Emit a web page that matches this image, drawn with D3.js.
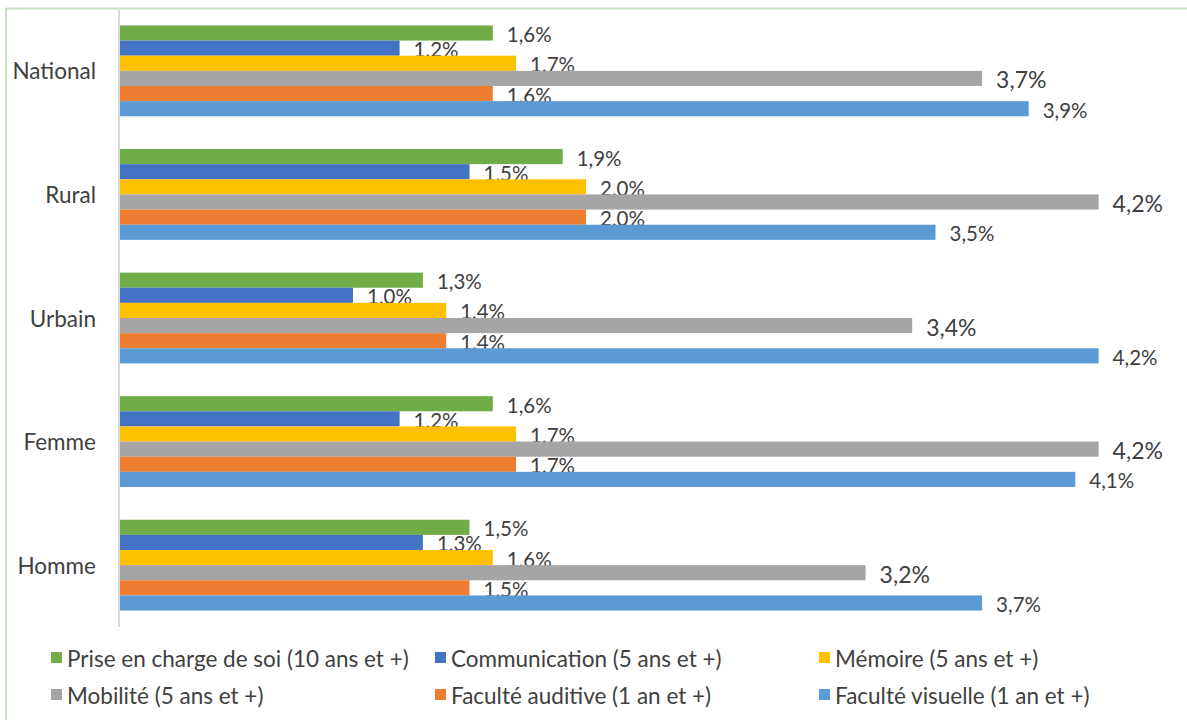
<!DOCTYPE html>
<html>
<head>
<meta charset="utf-8">
<script src="https://cdn.jsdelivr.net/npm/d3@7"></script>
<style>
  html, body { margin: 0; padding: 0; background: #fff; }
  svg { display: block; font-family: "Lato", "Open Sans", sans-serif; }
</style>
</head>
<body>
<svg id="chart" width="1187" height="720"></svg>
<script>
// Groups shown on the vertical axis (top to bottom)
const categories = ["National", "Rural", "Urbain", "Femme", "Homme"];

// Series names, in the drawing order inside each group
const seriesNames = [
  "Prise en charge de soi (10 ans et +)",
  "Communication (5 ans et +)",
  "Mémoire (5 ans et +)",
  "Mobilité (5 ans et +)",
  "Faculté auditive (1 an et +)",
  "Faculté visuelle (1 an et +)"
];

// Percentages per series, one value per category
const priseEnCharge = [1.6, 1.9, 1.3, 1.6, 1.5];
const communication = [1.2, 1.5, 1.0, 1.2, 1.3];
const memoire       = [1.7, 2.0, 1.4, 1.7, 1.6];
const mobilite      = [3.7, 4.2, 3.4, 4.2, 3.2];
const auditive      = [1.6, 2.0, 1.4, 1.7, 1.5];
const visuelle      = [3.9, 3.5, 4.2, 4.1, 3.7];

const seriesValues = [priseEnCharge, communication, memoire, mobilite, auditive, visuelle];
const colors = ["#70ad47", "#4472c4", "#ffc000", "#a5a5a5", "#ed7d31", "#5b9bd5"];

const svg = d3.select("#chart");

// Outer frame: thin green rule on the top and left edges
svg.append("line").attr("x1", 6).attr("x2", 1187).attr("y1", 8.5).attr("y2", 8.5)
  .attr("stroke", "#c6e0c6").attr("stroke-width", 2);
svg.append("line").attr("x1", 6).attr("x2", 6).attr("y1", 8).attr("y2", 720)
  .attr("stroke", "#c6e0c6").attr("stroke-width", 2);

const x = d3.scaleLinear().domain([0, 4.5]).range([120, 120 + 4.5 * 233]);
const y0 = d3.scaleBand().domain(categories).range([9, 627]).paddingInner(0.265).paddingOuter(0.133);
const y1 = d3.scaleBand().domain(d3.range(seriesNames.length)).range([0, y0.bandwidth()]);

const fmt = v => d3.format(".1f")(v).replace(".", ",") + "%";

// Category axis line
svg.append("line")
  .attr("x1", 119).attr("x2", 119).attr("y1", 10).attr("y2", 627)
  .attr("stroke", "#d9d9d9").attr("stroke-width", 2);

// Category labels
svg.append("g").selectAll("text").data(categories).join("text")
  .attr("x", 96)
  .attr("y", d => y0(d) + y0.bandwidth() / 2)
  .attr("text-anchor", "end")
  .attr("dominant-baseline", "central")
  .attr("font-size", 22.5)
  .attr("fill", "#404040")
  .text(d => d);

// Bars and value labels
const groups = svg.append("g").selectAll("g").data(categories).join("g")
  .attr("transform", d => `translate(0,${y0(d)})`);

groups.each(function (cat, ci) {
  const g = d3.select(this);
  seriesValues.forEach((vals, si) => {
    const v = vals[ci];
    g.append("rect")
      .attr("x", x(0))
      .attr("y", y1(si))
      .attr("width", x(v) - x(0))
      .attr("height", y1.bandwidth())
      .attr("fill", colors[si]);
    g.append("text")
      .attr("x", x(v) + 14)
      .attr("y", y1(si) + y1.bandwidth() / 2 + 1)
      .attr("dominant-baseline", "central")
      .attr("font-size", si === 3 ? 23 : 20.5)
      .attr("fill", "#404040")
      .text(fmt(v));
  });
});

// Legend: three columns, two rows
const legendCols = [51, 435, 819];
const legendRows = [658, 695];
const legend = svg.append("g").selectAll("g").data(seriesNames).join("g")
  .attr("transform", (d, i) => `translate(${legendCols[i % 3]},${legendRows[Math.floor(i / 3)]})`);
legend.append("rect")
  .attr("x", 0).attr("y", -6).attr("width", 11).attr("height", 11)
  .attr("fill", (d, i) => colors[i]);
legend.append("text")
  .attr("x", 16).attr("y", 0)
  .attr("dominant-baseline", "central")
  .attr("font-size", 22.5)
  .attr("fill", "#404040")
  .text(d => d);
</script>
</body>
</html>
